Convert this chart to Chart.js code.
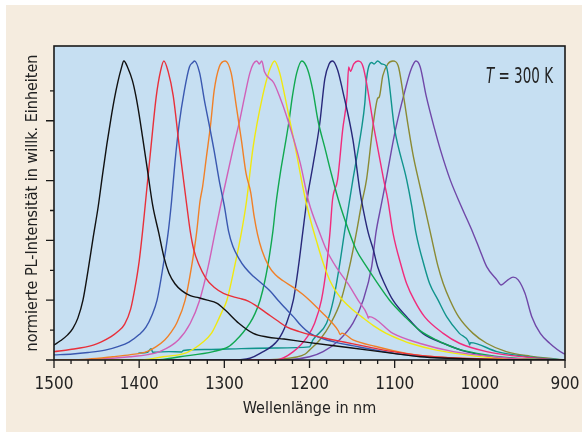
<!DOCTYPE html>
<html>
<head>
<meta charset="utf-8">
<script src="https://cdn.jsdelivr.net/npm/chart.js@4.4.1/dist/chart.umd.min.js"></script>
<style>
  html, body { margin: 0; padding: 0; background: #ffffff; }
  #panel { position: absolute; left: 6px; top: 5px; right: 0; bottom: 0; background: #f5ecdf; }
  #wrap { position: absolute; left: 0; top: 0; width: 582px; height: 432px; }
</style>
</head>
<body>
<div id="panel"></div>
<div id="wrap"><canvas id="spektren" width="582" height="432"></canvas></div>
<script>
  // PL-Spektren, normiert, [Wellenlänge nm, Intensität]
  var schwarz = [[1500,0.05],[1492,0.065],[1484,0.084],[1478,0.105],[1472,0.14],[1466,0.2],[1460,0.3],[1454,0.41],[1448,0.515],[1443,0.62],[1438,0.72],[1433,0.81],[1429,0.875],[1425,0.93],[1421,0.975],[1418,1.0],[1413,0.975],[1408,0.935],[1404,0.885],[1400,0.82],[1396,0.745],[1390,0.63],[1384,0.515],[1377,0.425],[1371,0.345],[1365,0.29],[1358,0.255],[1350,0.232],[1340,0.215],[1330,0.208],[1320,0.2],[1309,0.19],[1299,0.167],[1283,0.123],[1266,0.089],[1250,0.077],[1230,0.07],[1200,0.058],[1150,0.04],[1102,0.022],[1070,0.011],[1000,0.003],[900,0]];
  var rot = [[1500,0.028],[1481,0.035],[1454,0.05],[1445,0.06],[1433,0.078],[1425,0.095],[1417,0.12],[1410,0.17],[1405,0.24],[1400,0.33],[1396,0.43],[1393,0.515],[1386,0.716],[1380,0.88],[1375,0.965],[1371,1.0],[1366,0.965],[1360,0.883],[1353,0.716],[1344,0.515],[1340,0.43],[1336,0.37],[1330,0.32],[1322,0.275],[1312,0.243],[1301,0.223],[1290,0.212],[1282,0.206],[1272,0.197],[1262,0.18],[1250,0.156],[1238,0.132],[1227,0.111],[1212,0.095],[1200,0.085],[1180,0.072],[1161,0.061],[1130,0.043],[1102,0.028],[1062,0.013],[1000,0.004],[900,0]];
  var blau = [[1500,0.017],[1478,0.02],[1460,0.025],[1440,0.033],[1425,0.045],[1412,0.06],[1400,0.085],[1392,0.11],[1385,0.15],[1379,0.2],[1372,0.312],[1366,0.425],[1362,0.53],[1358,0.66],[1353,0.79],[1347,0.9],[1341,0.98],[1337,0.995],[1335,1.0],[1329,0.96],[1323.5,0.87],[1318,0.79],[1312,0.7],[1306,0.6],[1300,0.515],[1295,0.43],[1290,0.38],[1283,0.34],[1276,0.31],[1266,0.28],[1256,0.256],[1246,0.23],[1237,0.2],[1228,0.172],[1219,0.145],[1210,0.115],[1200,0.09],[1185,0.072],[1170,0.06],[1150,0.048],[1100,0.022],[1050,0.008],[1000,0.002],[900,0]];
  var orange = [[1500,0],[1460,0.003],[1431,0.011],[1410,0.018],[1391,0.028],[1380,0.045],[1370,0.067],[1362,0.095],[1356,0.123],[1346,0.2],[1338.5,0.312],[1332.6,0.425],[1328.6,0.53],[1325.5,0.58],[1321,0.68],[1316,0.79],[1312,0.9],[1306,0.98],[1299,1.0],[1292,0.96],[1286,0.85],[1280,0.736],[1274.5,0.624],[1269,0.56],[1265,0.48],[1261,0.42],[1256,0.368],[1248,0.315],[1240,0.285],[1231,0.265],[1219,0.243],[1208,0.22],[1200,0.2],[1185,0.158],[1173,0.123],[1166,0.097],[1164,0.085],[1162,0.09],[1149,0.067],[1122,0.045],[1086,0.022],[1050,0.01],[1000,0.003],[900,0]];
  var orchidee = [[1500,0],[1450,0.003],[1411,0.011],[1390,0.018],[1376,0.028],[1354,0.067],[1340,0.123],[1329,0.2],[1319,0.312],[1311,0.425],[1303,0.535],[1289,0.716],[1282,0.8],[1276,0.883],[1270,0.96],[1266,0.99],[1262,1.0],[1259,0.99],[1256,1.0],[1253,0.965],[1242,0.927],[1235,0.88],[1227,0.816],[1211,0.66],[1201,0.53],[1188,0.425],[1180,0.368],[1169,0.312],[1155,0.256],[1143,0.2],[1132,0.15],[1131,0.14],[1130,0.145],[1102,0.089],[1071,0.056],[1031,0.028],[984,0.011],[950,0.003],[900,0]];
  var gelb = [[1500,0],[1400,0],[1372,0.011],[1344,0.025],[1325,0.06],[1315,0.09],[1309,0.123],[1303,0.16],[1297,0.2],[1288,0.312],[1280,0.425],[1274,0.53],[1266,0.716],[1255,0.883],[1248,0.96],[1241,1.0],[1235,0.96],[1229,0.883],[1217,0.716],[1205,0.54],[1199,0.47],[1192,0.4],[1184,0.325],[1176,0.265],[1168,0.225],[1161,0.2],[1150,0.17],[1139,0.145],[1125,0.115],[1110,0.089],[1095,0.07],[1082,0.056],[1051,0.033],[1016,0.017],[980,0.006],[900,0]];
  var gruen = [[1500,0],[1380,0],[1352,0.011],[1313,0.028],[1295,0.045],[1286,0.067],[1278,0.092],[1270,0.123],[1264,0.155],[1258,0.2],[1252,0.27],[1247,0.35],[1243,0.43],[1239.5,0.52],[1234,0.63],[1228.6,0.72],[1224,0.8],[1220,0.883],[1215,0.96],[1209,1.0],[1202,0.97],[1196,0.9],[1190,0.8],[1182,0.71],[1174.5,0.624],[1166,0.535],[1153,0.425],[1145,0.368],[1133,0.312],[1120,0.256],[1106,0.2],[1088,0.145],[1071,0.1],[1051,0.067],[1028,0.039],[992,0.017],[950,0.004],[900,0]];
  var marine = [[1500,0],[1290,0],[1270,0.006],[1258,0.022],[1237,0.067],[1227,0.123],[1219,0.2],[1213,0.312],[1208,0.425],[1203,0.535],[1196,0.65],[1188,0.79],[1182,0.94],[1177,0.99],[1173,1.0],[1167,0.97],[1161,0.9],[1149,0.736],[1141,0.569],[1139,0.535],[1131,0.425],[1125,0.368],[1120,0.312],[1112,0.256],[1102,0.2],[1086,0.145],[1067,0.089],[1043,0.056],[1016,0.028],[984,0.011],[950,0.003],[900,0]];
  var pink = [[1500,0],[1240,0],[1219,0.028],[1202,0.08],[1194,0.123],[1186,0.2],[1180,0.312],[1176,0.425],[1173,0.535],[1167,0.604],[1161,0.771],[1156,0.88],[1154,0.98],[1152,0.965],[1148,0.99],[1143,1.0],[1137,0.98],[1124,0.771],[1113,0.604],[1108,0.535],[1102,0.425],[1092,0.312],[1086,0.256],[1077,0.2],[1065,0.145],[1043,0.089],[1024,0.056],[992,0.028],[957,0.013],[920,0.003],[900,0]];
  var petrol = [[1401,0.023],[1390,0.026],[1386,0.038],[1384,0.026],[1365,0.028],[1350,0.027],[1348,0.032],[1320,0.035],[1280,0.038],[1240,0.04],[1200,0.044],[1196,0.067],[1180,0.123],[1172,0.2],[1165,0.312],[1159,0.425],[1154,0.515],[1149,0.604],[1139,0.771],[1135,0.86],[1133,0.94],[1127,0.995],[1124,0.99],[1120,1.0],[1115,0.99],[1110,0.983],[1100,0.771],[1086,0.604],[1080,0.515],[1075,0.425],[1065,0.312],[1059,0.256],[1049,0.2],[1039,0.145],[1024,0.089],[1013,0.06],[1012,0.05],[1011,0.058],[980,0.028],[949,0.013],[920,0.004],[900,0]];
  var oliv = [[1500,0],[1260,0],[1215,0.01],[1205,0.02],[1200,0.033],[1188,0.067],[1175,0.123],[1163,0.2],[1153,0.312],[1145,0.425],[1139,0.52],[1133,0.604],[1126,0.771],[1122,0.85],[1120,0.875],[1118,0.88],[1114,0.95],[1108,0.99],[1102,1.0],[1096,0.985],[1090,0.89],[1084,0.78],[1078,0.68],[1071,0.59],[1065,0.515],[1058,0.425],[1049,0.312],[1043,0.256],[1035,0.2],[1025,0.145],[1008,0.089],[992,0.056],[969,0.028],[941,0.013],[910,0.003],[900,0]];
  var violett = [[1500,0],[1230,0],[1200,0.011],[1184,0.028],[1165,0.067],[1149,0.123],[1137,0.2],[1127,0.312],[1122,0.425],[1116,0.515],[1110,0.604],[1099,0.771],[1088,0.9],[1081,0.97],[1075,1.0],[1070,0.98],[1063,0.883],[1053,0.771],[1046,0.7],[1035,0.604],[1022,0.515],[1008,0.425],[1000,0.368],[992,0.312],[980,0.268],[975,0.251],[967,0.268],[961,0.277],[955,0.268],[947,0.223],[939,0.145],[929,0.089],[918,0.056],[902,0.022],[900,0.02]];

  var xBeschriftung = [1500, 1400, 1300, 1200, 1100, 1000, 900];
  var schrift = "'Liberation Sans Narrow', 'DejaVu Sans Condensed', sans-serif";

  var kurven = [
    [schwarz, '#111111'], [rot, '#e8303a'], [blau, '#3a58b0'], [orange, '#f08028'],
    [orchidee, '#d060b8'], [gelb, '#f0e810'], [gruen, '#10a850'], [marine, '#28287a'],
    [pink, '#f02c7c'], [petrol, '#10948c'], [oliv, '#8a8a34'], [violett, '#7048a8']
  ];

  // Hintergrund, Rahmen, Teilstriche und Temperaturangabe
  var rahmen = {
    id: 'rahmen',
    beforeDatasetsDraw: function (chart) {
      var a = chart.chartArea, ctx = chart.ctx;
      ctx.save();
      ctx.fillStyle = '#c6dff2';
      ctx.fillRect(a.left, a.top, a.right - a.left, a.bottom - a.top);
      ctx.restore();
    },
    afterDraw: function (chart) {
      var a = chart.chartArea, ctx = chart.ctx;
      var sx = chart.scales.x, sy = chart.scales.y;
      ctx.save();
      ctx.strokeStyle = '#1a1a1a';
      ctx.lineWidth = 1.6;
      ctx.strokeRect(a.left, a.top, a.right - a.left, a.bottom - a.top);
      ctx.lineWidth = 1.3;
      ctx.beginPath();
      for (var w = 900; w <= 1500; w += 20) {
        var px = sx.getPixelForValue(w);
        var len = (w % 100 === 0) ? 8 : 4;
        ctx.moveTo(px, a.bottom);
        ctx.lineTo(px, a.bottom + len);
      }
      for (var i = 0; i <= 9; i++) {
        var py = sy.getPixelForValue(i / 10);
        var l = (i % 2 === 0) ? 8 : 4;
        ctx.moveTo(a.left, py);
        ctx.lineTo(a.left - l, py);
      }
      ctx.stroke();

      // "T = 300 K", schmal gesetzt
      ctx.fillStyle = '#222222';
      ctx.textBaseline = 'alphabetic';
      ctx.font = 'italic 22px ' + schrift;
      var wT = ctx.measureText('T').width;
      ctx.font = '22px ' + schrift;
      var rest = ' = 300 K';
      var wR = ctx.measureText(rest).width;
      var breite = 67;
      var f = Math.min(1, breite / (wT + wR));
      ctx.translate(553 - breite, 83);
      ctx.scale(f, 1);
      ctx.font = 'italic 22px ' + schrift;
      ctx.fillText('T', 0, 0);
      ctx.font = '22px ' + schrift;
      ctx.fillText(rest, wT, 0);
      ctx.restore();
    }
  };

  new Chart(document.getElementById('spektren'), {
    type: 'line',
    data: {
      datasets: kurven.map(function (k) {
        return {
          data: k[0],
          borderColor: k[1],
          borderWidth: 1.4,
          pointRadius: 0,
          fill: false,
          cubicInterpolationMode: 'monotone'
        };
      })
    },
    options: {
      responsive: false,
      animation: false,
      events: [],
      layout: { padding: { top: 46, right: 17, left: 0, bottom: 0 } },
      plugins: { legend: { display: false }, tooltip: { enabled: false } },
      scales: {
        x: {
          type: 'linear',
          reverse: true,
          min: 900,
          max: 1500,
          grid: { display: false, drawTicks: false },
          border: { display: false },
          afterBuildTicks: function (s) { s.ticks = xBeschriftung.map(function (v) { return { value: v }; }); },
          afterFit: function (s) { s.height = 72; s.paddingLeft = 0; s.paddingRight = 0; },
          ticks: {
            color: '#222222', padding: 14, maxRotation: 0, autoSkip: false,
            font: { family: schrift, size: 17 },
            callback: function (v) { return String(v); }
          },
          title: { display: true, text: 'Wellenlänge in nm', color: '#222222', padding: { top: 0, bottom: 14 }, font: { family: schrift, size: 16 } }
        },
        y: {
          min: 0,
          max: 1.05,
          grid: { display: false, drawTicks: false },
          border: { display: false },
          ticks: { display: false },
          afterFit: function (s) { s.width = 54; },
          title: { display: true, text: 'normierte PL-Intensität in willk. Einheiten', color: '#222222', padding: { top: 23, bottom: 0 }, font: { family: schrift, size: 16 } }
        }
      }
    },
    plugins: [rahmen]
  });
</script>
</body>
</html>
